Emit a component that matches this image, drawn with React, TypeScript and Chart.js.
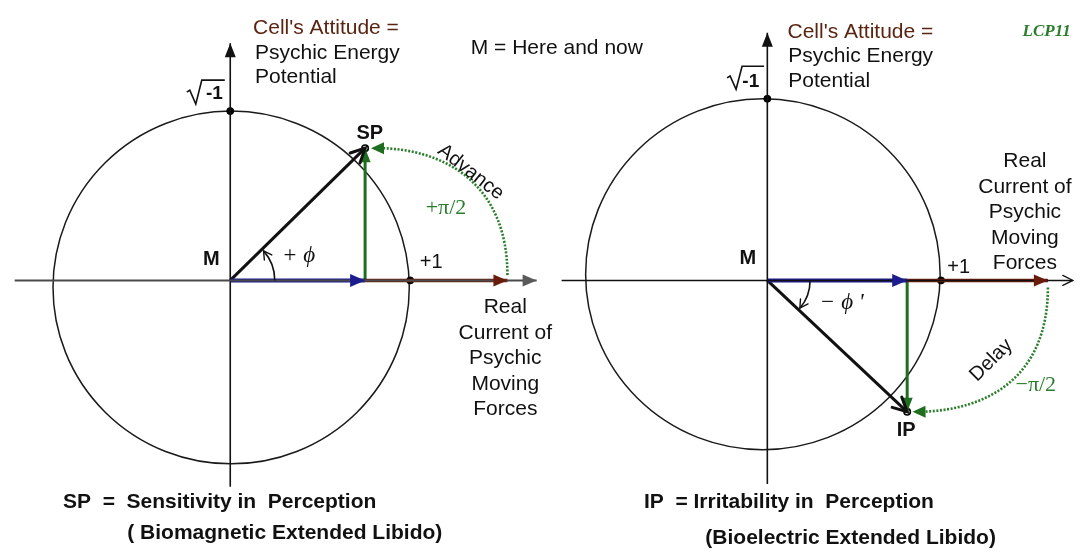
import React, { useEffect, useRef } from "react";
import { Chart, registerables } from "chart.js";

Chart.register(...registerables);

// ---------------- data (unit = radius of each phasor circle) ----------------
const ORIGIN_X = [0, 3.015];            // M of left and right diagram
const CIRCLE_CX = [0.005, 2.99];
const CIRCLE_CY = [-0.04, 0.035];
const CIRCLE_R = [1.0, 0.995];
const COS_PART = [0.757, 0.785];        // blue vector (real component)
const SIN_PART = [0.75, -0.745];        // green vector (imaginary component) -> SP / IP
const REAL_END = [1.556, 1.575];        // end of brown "real current" arrow (relative to M)
const AXIS_X_FROM = [-1.21, 1.86];
const AXIS_X_TO = [1.72, 4.73];
const AXIS_Y_FROM = [-1.17, -1.155];
const AXIS_Y_TO = [1.345, 1.405];
const UNIT_IMAG = [0.96, 1.03];         // √-1 dot on each vertical axis
const UNIT_REAL = [1.01, 0.975];        // +1 dot (relative to M)
const PHI_RADIUS = [0.25, 0.24];
const ADVANCE_CURVE = [[1.556, 0.03], [1.556, 0.55], [1.2, 0.75], [0.79, 0.75]];
const DELAY_CURVE = [[4.59, -0.04], [4.59, -0.55], [4.25, -0.74], [3.83, -0.745]];

// view window (data units)
const X_MIN = -1.2611, X_MAX = 4.7556, Y_MIN = -1.5139, Y_MAX = 1.5583;

// ---------------- styles ----------------
const BLUE = "#1c1c8e";
const BROWN = "#6a1c0c";
const GREEN = "#1f6e1f";
const DOT_GREEN = "#2b7d2b";
const TEXT_BROWN = "#5a2410";
const SANS = '"Liberation Sans", Arial, sans-serif';
const SERIF = '"Liberation Serif", "Times New Roman", serif';

type Lbl = { t: string; x: number; y: number; font: string; color?: string; align?: CanvasTextAlign; rot?: number };

const LABELS: Lbl[] = [
  // left diagram
  { t: "Cell's Attitude =", x: 0.128, y: 1.431, font: `21px ${SANS}`, color: TEXT_BROWN, align: "left" },
  { t: "Psychic Energy", x: 0.139, y: 1.286, font: `21px ${SANS}`, align: "left" },
  { t: "Potential", x: 0.139, y: 1.153, font: `21px ${SANS}`, align: "left" },
  { t: "M = Here and now", x: 1.35, y: 1.314, font: `21px ${SANS}`, align: "left" },
  { t: "-1", x: -0.089, y: 1.058, font: `bold 19px ${SANS}` },
  { t: "SP", x: 0.783, y: 0.831, font: `bold 20px ${SANS}` },
  { t: "Advance", x: 1.35, y: 0.614, font: `20px ${SANS}`, rot: 38 },
  { t: "+π/2", x: 1.211, y: 0.408, font: `22px ${SERIF}`, color: DOT_GREEN },
  { t: "M", x: -0.106, y: 0.119, font: `bold 20px ${SANS}` },
  { t: "+ ϕ", x: 0.383, y: 0.136, font: `italic 23px ${SERIF}` },
  { t: "+1", x: 1.128, y: 0.103, font: `20px ${SANS}` },
  { t: "Real", x: 1.544, y: -0.153, font: `21px ${SANS}` },
  { t: "Current of", x: 1.544, y: -0.297, font: `21px ${SANS}` },
  { t: "Psychic", x: 1.544, y: -0.442, font: `21px ${SANS}` },
  { t: "Moving", x: 1.544, y: -0.586, font: `21px ${SANS}` },
  { t: "Forces", x: 1.544, y: -0.731, font: `21px ${SANS}` },
  { t: "SP  =  Sensitivity in  Perception", x: -0.939, y: -1.258, font: `bold 21px ${SANS}`, align: "left" },
  { t: "( Biomagnetic Extended Libido)", x: -0.578, y: -1.431, font: `bold 21px ${SANS}`, align: "left" },
  // right diagram
  { t: "Cell's Attitude =", x: 3.128, y: 1.408, font: `21px ${SANS}`, color: TEXT_BROWN, align: "left" },
  { t: "Psychic Energy", x: 3.133, y: 1.269, font: `21px ${SANS}`, align: "left" },
  { t: "Potential", x: 3.133, y: 1.131, font: `21px ${SANS}`, align: "left" },
  { t: "LCP11", x: 4.583, y: 1.408, font: `italic bold 17px ${SERIF}`, color: DOT_GREEN },
  { t: "-1", x: 2.922, y: 1.125, font: `bold 19px ${SANS}` },
  { t: "M", x: 2.906, y: 0.125, font: `bold 20px ${SANS}` },
  { t: "+1", x: 4.089, y: 0.075, font: `20px ${SANS}` },
  { t: "− ϕ '", x: 3.433, y: -0.125, font: `italic 23px ${SERIF}` },
  { t: "Delay", x: 4.272, y: -0.453, font: `20px ${SANS}`, rot: -45 },
  { t: "−π/2", x: 4.522, y: -0.597, font: `22px ${SERIF}`, color: DOT_GREEN },
  { t: "IP", x: 3.794, y: -0.853, font: `bold 20px ${SANS}` },
  { t: "Real", x: 4.461, y: 0.675, font: `21px ${SANS}` },
  { t: "Current of", x: 4.461, y: 0.531, font: `21px ${SANS}` },
  { t: "Psychic", x: 4.461, y: 0.386, font: `21px ${SANS}` },
  { t: "Moving", x: 4.461, y: 0.242, font: `21px ${SANS}` },
  { t: "Forces", x: 4.461, y: 0.097, font: `21px ${SANS}` },
  { t: "IP  = Irritability in  Perception", x: 2.322, y: -1.258, font: `bold 21px ${SANS}`, align: "left" },
  { t: "(Bioelectric Extended Libido)", x: 2.667, y: -1.464, font: `bold 21px ${SANS}`, align: "left" },
];

// radical sign anchors (top-left corner of the sign) in data units
const RADICALS = [
  { x: -0.244, y: 1.136, w: 38, h: 24 },
  { x: 2.789, y: 1.214, w: 37, h: 23 },
];

function buildDatasets() {
  const ds: any[] = [];
  for (let d = 0; d < 2; d++) {
    const o = ORIGIN_X[d];
    const tipX = o + COS_PART[d];
    ds.push({
      data: [{ x: AXIS_X_FROM[d], y: 0 }, { x: AXIS_X_TO[d], y: 0 }],
      borderColor: d === 0 ? "#4a4a4a" : "#111", borderWidth: d === 0 ? 2 : 1.5,
      arrow: d === 0 ? { kind: "fill", color: "#5a5a5a", len: 14, half: 6 } : { kind: "open", color: "#111", len: 10, half: 5, width: 1.3 },
    });
    ds.push({
      data: [{ x: o, y: AXIS_Y_FROM[d] }, { x: o, y: AXIS_Y_TO[d] }],
      borderColor: "#111", borderWidth: 1.6,
      arrow: { kind: "fill", color: "#111", len: 14, half: 5.5 },
    });
    ds.push({
      data: [{ x: tipX, y: 0 }, { x: o + REAL_END[d], y: 0 }],
      borderColor: BROWN, borderWidth: 3.5,
      arrow: { kind: "fill", color: BROWN, len: 14, half: 6 },
    });
    ds.push({
      data: [{ x: o, y: 0 }, { x: tipX, y: 0 }],
      borderColor: BLUE, borderWidth: 4,
      arrow: { kind: "fill", color: BLUE, len: 15, half: 6.5 },
    });
    ds.push({
      data: [{ x: tipX, y: 0 }, { x: tipX, y: SIN_PART[d] }],
      borderColor: GREEN, borderWidth: 3,
      arrow: { kind: "fill", color: GREEN, len: 14, half: 5.5 },
    });
    ds.push({
      data: [{ x: o, y: 0 }, { x: tipX, y: SIN_PART[d] }],
      borderColor: "#111", borderWidth: 3,
      arrow: { kind: "open", color: "#111", len: 14, half: 7, width: 3 },
    });
    ds.push({
      data: [{ x: o, y: UNIT_IMAG[d] }, { x: o + UNIT_REAL[d], y: 0 }],
      showLine: false, pointRadius: 3.5, backgroundColor: "#000", borderColor: "#000",
    });
    ds.push({
      data: [{ x: tipX, y: SIN_PART[d] }],
      showLine: false, pointRadius: 3.2, backgroundColor: "#fff", borderColor: "#000", borderWidth: 1.6,
    });
  }
  return ds.map((s) => ({ pointRadius: 0, fill: false, showLine: true, ...s }));
}

function drawHead(ctx: CanvasRenderingContext2D, x0: number, y0: number, x1: number, y1: number, a: any) {
  const ang = Math.atan2(y1 - y0, x1 - x0);
  const bx = x1 - a.len * Math.cos(ang), by = y1 - a.len * Math.sin(ang);
  const px = -Math.sin(ang) * a.half, py = Math.cos(ang) * a.half;
  ctx.save();
  if (a.kind === "fill") {
    ctx.fillStyle = a.color;
    ctx.beginPath();
    ctx.moveTo(x1, y1);
    ctx.lineTo(bx + px, by + py);
    ctx.lineTo(bx - px, by - py);
    ctx.closePath();
    ctx.fill();
  } else {
    ctx.strokeStyle = a.color;
    ctx.lineWidth = a.width || 1.5;
    ctx.lineCap = "round";
    ctx.beginPath();
    ctx.moveTo(bx + px, by + py);
    ctx.lineTo(x1, y1);
    ctx.lineTo(bx - px, by - py);
    ctx.stroke();
  }
  ctx.restore();
}

const phasorPlugin = {
  id: "phasor",
  beforeDatasetsDraw(chart: any) {
    const { ctx, scales } = chart;
    const sx = scales.x, sy = scales.y;
    const ux = sx.getPixelForValue(1) - sx.getPixelForValue(0);
    const uy = sy.getPixelForValue(0) - sy.getPixelForValue(1);
    ctx.save();
    ctx.strokeStyle = "#1a1a1a";
    ctx.lineWidth = 1.5;
    for (let d = 0; d < 2; d++) {
      ctx.beginPath();
      ctx.ellipse(sx.getPixelForValue(CIRCLE_CX[d]), sy.getPixelForValue(CIRCLE_CY[d]), CIRCLE_R[d] * ux, CIRCLE_R[d] * uy, 0, 0, Math.PI * 2);
      ctx.stroke();
    }
    ctx.restore();
  },
  afterDatasetsDraw(chart: any) {
    const { ctx, scales } = chart;
    const sx = scales.x, sy = scales.y;
    const X = (v: number) => sx.getPixelForValue(v);
    const Y = (v: number) => sy.getPixelForValue(v);
    const ux = X(1) - X(0);

    // arrow heads on vector datasets
    chart.data.datasets.forEach((ds: any, i: number) => {
      if (!ds.arrow) return;
      const pts = chart.getDatasetMeta(i).data;
      const a = pts[pts.length - 2], b = pts[pts.length - 1];
      drawHead(ctx, a.x, a.y, b.x, b.y, ds.arrow);
    });

    // dotted ±π/2 curves
    [ADVANCE_CURVE, DELAY_CURVE].forEach((c) => {
      const p = c.map(([x, y]) => [X(x), Y(y)]);
      ctx.save();
      ctx.strokeStyle = DOT_GREEN;
      ctx.lineWidth = 2.6;
      ctx.setLineDash([2, 1.6]);
      ctx.beginPath();
      ctx.moveTo(p[0][0], p[0][1]);
      ctx.bezierCurveTo(p[1][0], p[1][1], p[2][0], p[2][1], p[3][0] + 6, p[3][1]);
      ctx.stroke();
      ctx.restore();
      drawHead(ctx, p[2][0], p[2][1], p[3][0], p[3][1], { kind: "fill", color: GREEN, len: 13, half: 6 });
    });

    // angle arcs (phi)
    for (let d = 0; d < 2; d++) {
      const cx = X(ORIGIN_X[d]), cy = Y(0);
      const r = PHI_RADIUS[d] * ux;
      const end = Math.atan2(SIN_PART[d], COS_PART[d]) * 0.93;
      ctx.save();
      ctx.strokeStyle = "#111";
      ctx.lineWidth = 1.6;
      ctx.beginPath();
      ctx.arc(cx, cy, r, 0, -end, end > 0);
      ctx.stroke();
      ctx.restore();
      const ex = cx + r * Math.cos(-end), ey = cy + r * Math.sin(-end);
      const tx = ex + (end > 0 ? -1 : -1) * Math.sin(-end) * 3, ty = ey + (end > 0 ? 1 : 1) * Math.cos(-end) * 3 * (end > 0 ? -1 : 1);
      const prevA = -end + (end > 0 ? 0.25 : -0.25);
      drawHead(ctx, cx + r * Math.cos(prevA), cy + r * Math.sin(prevA), ex, ey, { kind: "open", color: "#111", len: 8, half: 4.5, width: 1.4 });
      void tx; void ty;
    }

    // radical signs
    RADICALS.forEach((r) => {
      const x = X(r.x), y = Y(r.y);
      ctx.save();
      ctx.strokeStyle = "#111";
      ctx.lineWidth = 1.6;
      ctx.beginPath();
      ctx.moveTo(x, y + r.h * 0.5);
      ctx.lineTo(x + 3, y + r.h * 0.42);
      ctx.lineTo(x + 9, y + r.h);
      ctx.lineTo(x + 15, y);
      ctx.lineTo(x + r.w, y);
      ctx.stroke();
      ctx.restore();
    });

    // text
    LABELS.forEach((l) => {
      ctx.save();
      ctx.font = l.font;
      ctx.fillStyle = l.color || "#111";
      ctx.textAlign = l.align || "center";
      ctx.textBaseline = "middle";
      ctx.translate(X(l.x), Y(l.y));
      if (l.rot) ctx.rotate((l.rot * Math.PI) / 180);
      ctx.fillText(l.t, 0, 0);
      ctx.restore();
    });
  },
};

export default function App() {
  const ref = useRef<HTMLCanvasElement | null>(null);
  useEffect(() => {
    document.body.style.margin = "0";
    document.body.style.background = "#fff";
    if (!ref.current) return;
    const chart = new Chart(ref.current, {
      type: "scatter",
      data: { datasets: buildDatasets() },
      options: {
        animation: false,
        responsive: false,
        devicePixelRatio: 1,
        layout: { padding: 0 },
        plugins: { legend: { display: false }, tooltip: { enabled: false } },
        events: [],
        scales: {
          x: { type: "linear", min: X_MIN, max: X_MAX, display: false },
          y: { type: "linear", min: Y_MIN, max: Y_MAX, display: false },
        },
      },
      plugins: [phasorPlugin],
    } as any);
    return () => chart.destroy();
  }, []);
  return (
    <div style={{ position: "absolute", left: 0, top: 0, width: 1083, height: 553, background: "#fff" }}>
      <canvas ref={ref} width={1083} height={553} style={{ display: "block" }} />
    </div>
  );
}
